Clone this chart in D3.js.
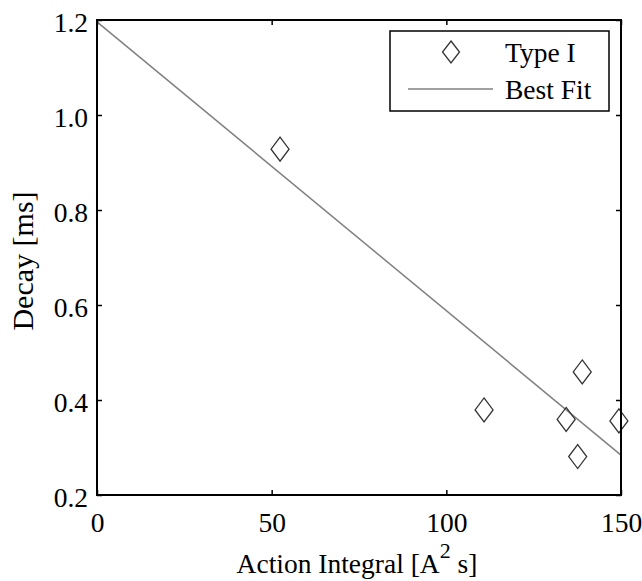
<!DOCTYPE html>
<html><head><meta charset="utf-8">
<script src="https://cdn.jsdelivr.net/npm/d3@7"></script>
<style>body{margin:0;background:#fff}svg{display:block}text{font-family:"Liberation Serif","Times New Roman",serif;fill:#000}</style>
</head><body>
<svg id="c" width="642" height="581"></svg>
<script>
const actionIntegral = [52.4, 110.8, 134.3, 138.9, 137.6, 149.4];
const decay = [0.928, 0.379, 0.359, 0.459, 0.281, 0.356];
const fitX = [0, 150];
const fitY = [1.196, 0.284];
const xTicks = [0, 50, 100, 150];
const yTicks = [0.2, 0.4, 0.6, 0.8, 1.0, 1.2];
const legendLabels = ["Type I", "Best Fit"];

const svg = d3.select("#c");
const L = 97, R = 621, T = 20, B = 495;
const x = d3.scaleLinear().domain([0, 150]).range([L, R]);
const y = d3.scaleLinear().domain([0.2, 1.2]).range([B, T]);
const fs = 27.5;

// fit line
svg.append("line")
  .attr("x1", x(fitX[0])).attr("y1", y(fitY[0]))
  .attr("x2", x(fitX[1])).attr("y2", y(fitY[1]))
  .attr("stroke", "#808080").attr("stroke-width", 1.5);

// diamonds
const dpath = (cx, cy, w, h) => `M${cx},${cy-h/2}L${cx+w/2},${cy}L${cx},${cy+h/2}L${cx-w/2},${cy}Z`;
svg.selectAll("path.pt").data(actionIntegral.map((v, i) => [v, decay[i]])).enter()
  .append("path").attr("class", "pt")
  .attr("d", d => dpath(x(d[0]), y(d[1]), 18, 24))
  .attr("fill", "none").attr("stroke", "#333").attr("stroke-width", 1.3);

// axes
const tick = 5;
const xb = d3.axisBottom(x).tickValues(xTicks).tickSize(-tick).tickPadding(17).tickFormat(d3.format("d"));
const xt = d3.axisTop(x).tickValues(xTicks).tickSize(-tick).tickFormat("");
const yl = d3.axisLeft(y).tickValues(yTicks).tickSize(-tick).tickPadding(9).tickFormat(d3.format(".1f"));
const yr = d3.axisRight(y).tickValues(yTicks).tickSize(-tick).tickFormat("");
function style(g) {
  g.select(".domain").remove();
  g.selectAll(".tick line").attr("stroke", "#000").attr("stroke-width", 1.5);
  g.selectAll("text").attr("font-size", fs).attr("font-family", "Liberation Serif").attr("fill", "#000");
}
svg.append("g").attr("transform", `translate(0,${B})`).call(xb).call(style);
svg.append("g").attr("transform", `translate(0,${T})`).call(xt).call(style);
svg.append("g").attr("transform", `translate(${L},0)`).call(yl).call(style)
  .selectAll("text").attr("dy", 11);
svg.append("g").attr("transform", `translate(${R},0)`).call(yr).call(style);

svg.append("rect").attr("x", L).attr("y", T).attr("width", R - L).attr("height", B - T)
  .attr("fill", "none").attr("stroke", "#000").attr("stroke-width", 2);

// axis labels
const xl = svg.append("text").attr("x", (L + R) / 2 - 2).attr("y", 573).attr("text-anchor", "middle").attr("font-size", fs);
xl.append("tspan").text("Action Integral [A");
xl.append("tspan").attr("dy", -15).attr("font-size", 22).text("2");
xl.append("tspan").attr("dy", 15).text(" s]");
svg.append("text").attr("transform", `translate(33,261) rotate(-90)`)
  .attr("text-anchor", "middle").attr("font-size", 30).text("Decay [ms]");

// legend
const lg = svg.append("g");
lg.append("rect").attr("x", 390).attr("y", 31).attr("width", 219).attr("height", 80)
  .attr("fill", "#fff").attr("stroke", "#000").attr("stroke-width", 1.5);
lg.append("path").attr("d", dpath(451, 52, 17, 22)).attr("fill", "none").attr("stroke", "#333").attr("stroke-width", 1.3);
lg.append("line").attr("x1", 408).attr("x2", 493).attr("y1", 89).attr("y2", 89).attr("stroke", "#808080").attr("stroke-width", 1.5);
lg.selectAll("text.lt").data(legendLabels).enter().append("text").attr("class", "lt")
  .attr("x", 505).attr("y", (d, i) => 62 + i * 37).attr("font-size", fs).text(d => d);
</script>
</body></html>
